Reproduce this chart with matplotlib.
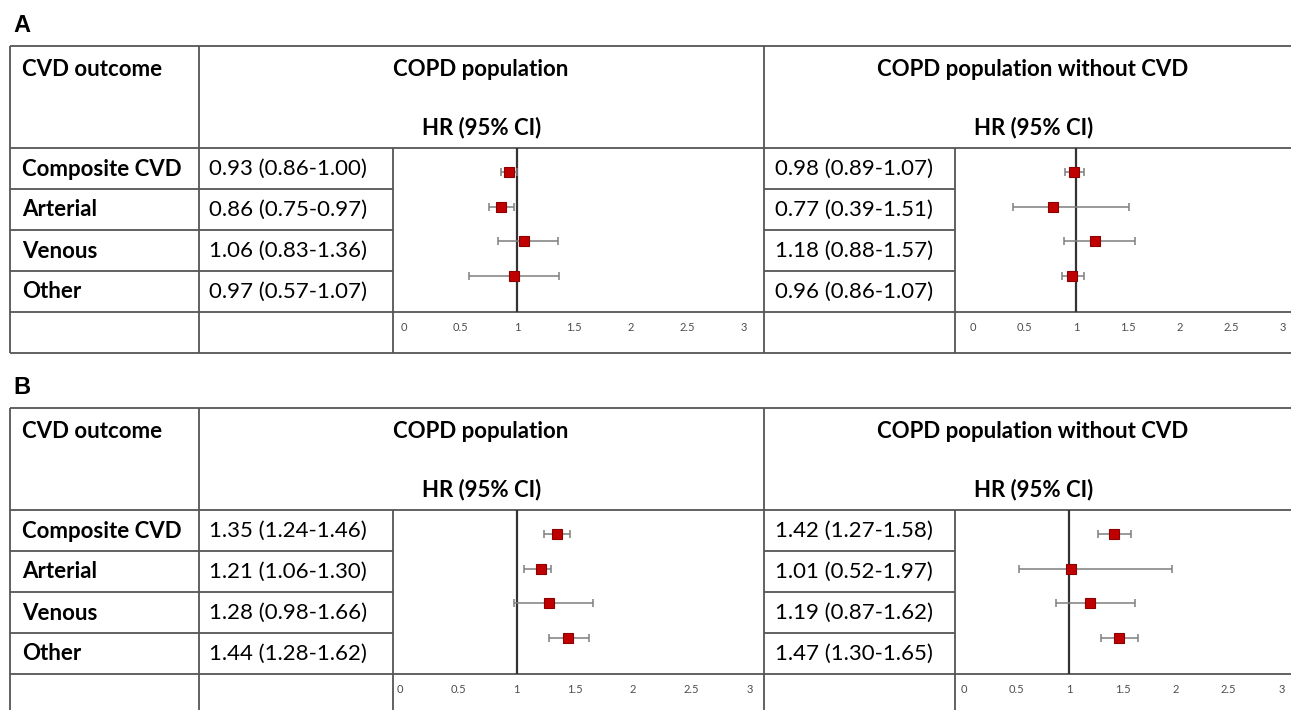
import matplotlib.pyplot as plt

# --- data ---
outcomes = ["Composite CVD", "Arterial", "Venous", "Other"]
x_ticks = [0, 0.5, 1, 1.5, 2, 2.5, 3]
tick_labels = ["0", "0.5", "1", "1.5", "2", "2.5", "3"]

# panel A, COPD population
a_all_text = ["0.93 (0.86-1.00)", "0.86 (0.75-0.97)", "1.06 (0.83-1.36)", "0.97 (0.57-1.07)"]
a_all_hr = [0.93, 0.86, 1.06, 0.97]
a_all_lo = [0.86, 0.75, 0.83, 0.57]
a_all_hi = [1.00, 0.97, 1.36, 1.37]   # plotted upper CI for "Other" as drawn

# panel A, COPD population without CVD
a_nocvd_text = ["0.98 (0.89-1.07)", "0.77 (0.39-1.51)", "1.18 (0.88-1.57)", "0.96 (0.86-1.07)"]
a_nocvd_hr = [0.98, 0.77, 1.18, 0.96]
a_nocvd_lo = [0.89, 0.39, 0.88, 0.86]
a_nocvd_hi = [1.07, 1.51, 1.57, 1.07]

# panel B, COPD population
b_all_text = ["1.35 (1.24-1.46)", "1.21 (1.06-1.30)", "1.28 (0.98-1.66)", "1.44 (1.28-1.62)"]
b_all_hr = [1.35, 1.21, 1.28, 1.44]
b_all_lo = [1.24, 1.06, 0.98, 1.28]
b_all_hi = [1.46, 1.30, 1.66, 1.62]

# panel B, COPD population without CVD
b_nocvd_text = ["1.42 (1.27-1.58)", "1.01 (0.52-1.97)", "1.19 (0.87-1.62)", "1.47 (1.30-1.65)"]
b_nocvd_hr = [1.42, 1.01, 1.19, 1.47]
b_nocvd_lo = [1.27, 0.52, 0.87, 1.30]
b_nocvd_hi = [1.58, 1.97, 1.62, 1.65]

W, H = 1291, 710
FONT = "Lato"
FS = 16
LINE = "#555555"

fig = plt.figure(figsize=(W / 100, H / 100), dpi=100)
bg = fig.add_axes([0, 0, 1, 1])
bg.set_xlim(0, W)
bg.set_ylim(H, 0)
bg.axis("off")


def hline(y, x0, x1):
    bg.plot([x0, x1], [y, y], color=LINE, lw=1.3, solid_capstyle="butt")


def vline(x, y0, y1):
    bg.plot([x, x], [y0, y1], color=LINE, lw=1.3, solid_capstyle="butt")


def forest(x0, x1, y0, y1, xlim, hr, lo, hi):
    ax = fig.add_axes([x0 / W, 1 - y1 / H, (x1 - x0) / W, (y1 - y0) / H])
    ax.patch.set_alpha(0)
    for s in ax.spines.values():
        s.set_visible(False)
    ypos = [4, 3, 2, 1]
    ax.axvline(1, color="#333333", lw=1.6)
    err = [[h - l for h, l in zip(hr, lo)], [u - h for h, u in zip(hr, hi)]]
    ax.errorbar(hr, ypos, xerr=err, fmt="none", ecolor="#7f7f7f",
                elinewidth=1.1, capsize=3, capthick=1.1)
    ax.plot(hr, ypos, "s", color="#c00000", mec="#8b0000", mew=0.8, ms=7.5)
    ax.set_xlim(*xlim)
    ax.set_ylim(-0.05, 4.7)
    ax.set_yticks([])
    ax.set_xticks(x_ticks)
    ax.set_xticklabels(tick_labels, fontsize=8, color="#4d4d4d", family=FONT)
    ax.tick_params(axis="x", length=0, pad=7)


def panel(letter, top, left_data, right_data, xlims):
    bg.text(13, top - 21, letter, fontsize=17, fontweight="bold",
            family="Liberation Sans", va="center", ha="left")
    hb = top + 102
    rows = [hb + 41 * i for i in range(6)]   # row lines, axis line, bottom
    axis_y, bottom = rows[4], rows[5]
    right_edge = 1302
    # outer lines
    hline(top, 10, right_edge)
    hline(hb, 10, right_edge)
    hline(axis_y, 10, right_edge)
    hline(bottom, 10, right_edge)
    for r in rows[1:4]:
        hline(r, 10, 393)
        hline(r, 764, 955)
    vline(10, top, bottom)
    vline(199, top, bottom)
    vline(764, top, bottom)
    vline(393, hb, bottom)
    vline(955, hb, bottom)
    vline(right_edge, top, bottom)

    # header
    bg.text(22, top + 23, "CVD outcome", fontsize=FS, fontweight="bold",
            family=FONT, va="center")
    bg.text(481, top + 23, "COPD population", fontsize=FS, fontweight="bold",
            family=FONT, va="center", ha="center")
    bg.text(1033, top + 23, "COPD population without CVD", fontsize=FS,
            fontweight="bold", family=FONT, va="center", ha="center")
    for cx in (482, 1034):
        bg.text(cx, top + 82, "HR (95% CI)", fontsize=FS, fontweight="bold",
                family=FONT, va="center", ha="center")

    for i, name in enumerate(outcomes):
        cy = hb + 41 * i + 21
        bg.text(22, cy, name, fontsize=FS, fontweight="bold", family=FONT, va="center")
        bg.text(209, cy, left_data[0][i], fontsize=FS, family=FONT, va="center")
        bg.text(775, cy, right_data[0][i], fontsize=FS, family=FONT, va="center")

    forest(393, 764, hb, axis_y, xlims[0], *left_data[1:])
    forest(955, W, hb, axis_y, xlims[1], *right_data[1:])


panel("A", 46,
      (a_all_text, a_all_hr, a_all_lo, a_all_hi),
      (a_nocvd_text, a_nocvd_hr, a_nocvd_lo, a_nocvd_hi),
      [(-0.097, 3.177), (-0.174, 3.078)])
panel("B", 408,
      (b_all_text, b_all_hr, b_all_lo, b_all_hi),
      (b_nocvd_text, b_nocvd_hr, b_nocvd_lo, b_nocvd_hi),
      [(-0.06, 3.124), (-0.08, 3.09)])

fig.savefig("out.png", dpi=100, facecolor="white")
